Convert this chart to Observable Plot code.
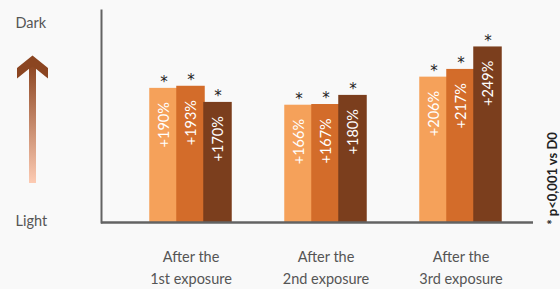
<!DOCTYPE html>
<html>
<head>
<meta charset="utf-8">
<script src="https://cdn.jsdelivr.net/npm/d3@7"></script>
<script src="https://cdn.jsdelivr.net/npm/@observablehq/plot@0.6"></script>
<style>
  html, body { margin: 0; padding: 0; background: #f9f9f9; }
  #wrap { position: relative; width: 560px; height: 289px; }
  #wrap svg { position: absolute; left: 0; top: 0; }
</style>
</head>
<body>
<div id="wrap"></div>
<script>
const groups = ["1st", "2nd", "3rd"];
const groupLabels = ["After the\n1st exposure", "After the\n2nd exposure", "After the\n3rd exposure"];
const seriesNames = ["Shade 1", "Shade 2", "Shade 3"];
const seriesColors = ["#f5a15a", "#d36c2a", "#7b3e1d"];
const valuesShade1 = [190, 166, 206];
const valuesShade2 = [193, 167, 217];
const valuesShade3 = [170, 180, 249];
const note = "* p<0,001 vs D0";
const scaleLabels = ["Dark", "Light"];

const seriesValues = [valuesShade1, valuesShade2, valuesShade3];
const data = [];
seriesValues.forEach((vals, si) => {
  vals.forEach((v, gi) => data.push({group: groups[gi], series: si, value: v, label: "+" + v + "%"}));
});

const bw = 81; // group band width (3 bars of 27px)
const marks = [];
seriesValues.forEach((vals, si) => {
  const d = data.filter(r => r.series === si);
  const inL = si * bw / 3;
  const inR = (2 - si) * bw / 3;
  marks.push(Plot.barY(d, {x: "group", y: "value", fill: seriesColors[si], stroke: seriesColors[si], strokeWidth: 1.5, insetLeft: inL, insetRight: inR}));
});
seriesValues.forEach((vals, si) => {
  const d = data.filter(r => r.series === si);
  const off = (si - 1) * bw / 3;
  marks.push(Plot.text(d, {x: "group", y: "value", text: "label", dx: off, dy: 13, rotate: -90, textAnchor: "end", fill: "#ffffff", fontSize: 14.5, fontFamily: "Lato"}));
  marks.push(Plot.text(d, {x: "group", y: "value", text: () => "*", dx: off, dy: -7, fill: "#222", fontSize: 15, fontFamily: "DejaVu Sans"}));
});

const chart = Plot.plot({
  width: 560,
  height: 289,
  marginLeft: 101,
  marginRight: 27,
  marginTop: 10,
  marginBottom: 67,
  style: {background: "transparent", fontFamily: "Lato", color: "#555"},
  x: {domain: groups, paddingInner: 0.4, paddingOuter: 0.3, align: 0.605, round: true, label: null},
  y: {domain: [0, 302], axis: null},
  marks: [
    ...marks,
    Plot.axisX({tickSize: 0, tickPadding: 24, fontSize: 14.5, lineHeight: 1.5, tickFormat: (d) => groupLabels[groups.indexOf(d)], fill: "#555", label: null}),
    Plot.ruleY([0], {stroke: "#636363", strokeWidth: 2.5}),
    Plot.frame({anchor: "left", stroke: "#636363", strokeWidth: 2}),
    Plot.text([note], {frameAnchor: "right", dx: 19, dy: 62, rotate: -90, textAnchor: "middle", lineAnchor: "middle", fontWeight: "bold", fontSize: 13, fill: "#222", fontFamily: "Lato"}),
    Plot.text([scaleLabels[0]], {frameAnchor: "top-left", dx: -86, dy: 13, textAnchor: "start", lineAnchor: "middle", fontSize: 14.5, fill: "#555", fontFamily: "Lato"}),
    Plot.text([scaleLabels[1]], {frameAnchor: "bottom-left", dx: -86, dy: -1, textAnchor: "start", lineAnchor: "middle", fontSize: 14.5, fill: "#555", fontFamily: "Lato"})
  ]
});
document.getElementById("wrap").appendChild(chart);

// Decorative gradient arrow (Light -> Dark)
const svg = d3.select("#wrap").append("svg").attr("width", 60).attr("height", 200).style("pointer-events", "none");
const grad = svg.append("defs").append("linearGradient").attr("id", "arrowGrad").attr("x1", 0).attr("y1", 1).attr("x2", 0).attr("y2", 0);
grad.append("stop").attr("offset", "0%").attr("stop-color", "#fdcbb3");
grad.append("stop").attr("offset", "100%").attr("stop-color", "#8b4521");
svg.append("rect").attr("x", 29).attr("y", 64).attr("width", 7).attr("height", 119).attr("fill", "url(#arrowGrad)");
svg.append("polygon").attr("points", "17,68 32.5,55.5 48,68 48,78.5 32.5,66 17,78.5").attr("fill", "#8b4521");
</script>
</body>
</html>
